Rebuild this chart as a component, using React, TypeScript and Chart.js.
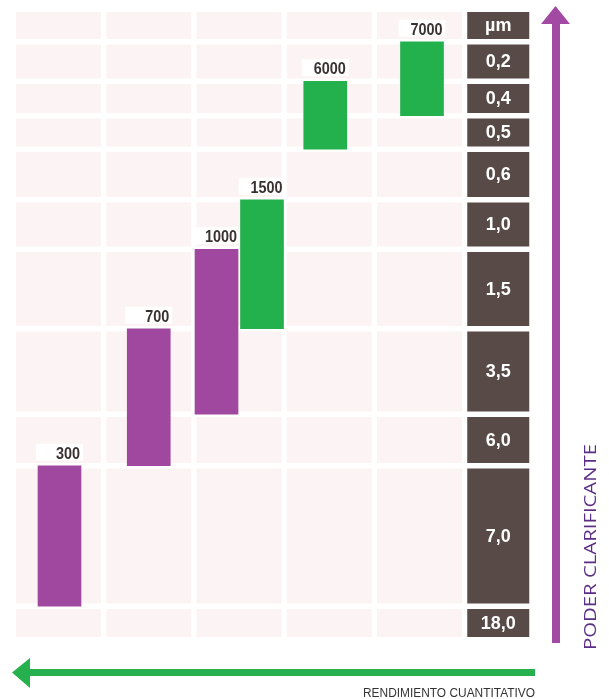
import { useEffect, useRef } from "react";
import { Chart, registerables } from "chart.js";

Chart.register(...registerables);

// ---------- data ----------
const sizeLabels = ["µm", "0,2", "0,4", "0,5", "0,6", "1,0", "1,5", "3,5", "6,0", "7,0", "18,0"];
const purpleValues = [300, 700, 1000];
const purpleColumns = [0, 1, 2];
const purpleFromRow = [9, 7, 6];
const purpleToRow = [9, 8, 7];
const greenValues = [1500, 6000, 7000];
const greenColumns = [2, 3, 4];
const greenFromRow = [5, 2, 1];
const greenToRow = [6, 3, 2];
const yTitle = "PODER CLARIFICANTE";
const xTitle = "RENDIMIENTO CUANTITATIVO";

// ---------- layout ----------
const COLUMN_COUNT = 5;
const ROW_H = [27, 34, 29, 28, 45, 44, 74, 80, 46, 135, 28];
const ROW_GAP = 5.5;
const COL_W = 85;
const COL_GAP = 5.25;
const LABEL_COL_W = 62;
const purpleOffsets = [1, 0, -22.5];
const greenOffsets = [23, -4, 2.5];

const ROW_TOP: number[] = [];
{
  let acc = 0;
  for (let i = 0; i < ROW_H.length; i++) {
    ROW_TOP.push(acc);
    acc += ROW_H[i] + ROW_GAP;
  }
}
const Y_MAX = ROW_TOP[ROW_TOP.length - 1] + ROW_H[ROW_H.length - 1];
const X_MAX = COLUMN_COUNT * (COL_W + COL_GAP) + LABEL_COL_W;

const boundaryAbove = (r: number) => (r === 0 ? 0 : ROW_TOP[r] - ROW_GAP / 2);
const boundaryBelow = (r: number) =>
  r === ROW_H.length - 1 ? Y_MAX : ROW_TOP[r] + ROW_H[r] + ROW_GAP / 2;
const colCenter = (c: number) => c * (COL_W + COL_GAP) + COL_W / 2;

const PINK = "#fcf3f4";
const DARK = "#584a46";
const PURPLE = "#a0489f";
const GREEN = "#22b14c";

function buildPoints(values: number[], cols: number[], from: number[], to: number[], offs: number[]) {
  return values.map((v, i) => ({
    x: colCenter(cols[i]) + offs[i],
    y: [boundaryAbove(from[i]), boundaryBelow(to[i])],
    v,
  }));
}

const gridPlugin = {
  id: "gridCells",
  beforeDatasetsDraw(chart: any) {
    const { ctx } = chart;
    const xs = chart.scales.x;
    const ys = chart.scales.y;
    ctx.save();
    for (let c = 0; c < COLUMN_COUNT; c++) {
      const l = xs.getPixelForValue(c * (COL_W + COL_GAP));
      const r = xs.getPixelForValue(c * (COL_W + COL_GAP) + COL_W);
      for (let j = 0; j < ROW_H.length; j++) {
        const t = ys.getPixelForValue(ROW_TOP[j]);
        const b = ys.getPixelForValue(ROW_TOP[j] + ROW_H[j]);
        ctx.fillStyle = PINK;
        ctx.fillRect(l, t, r - l, b - t);
      }
    }
    const ll = xs.getPixelForValue(COLUMN_COUNT * (COL_W + COL_GAP));
    const lr = xs.getPixelForValue(COLUMN_COUNT * (COL_W + COL_GAP) + LABEL_COL_W);
    for (let j = 0; j < ROW_H.length; j++) {
      const t = ys.getPixelForValue(ROW_TOP[j]);
      const b = ys.getPixelForValue(ROW_TOP[j] + ROW_H[j]);
      ctx.fillStyle = DARK;
      ctx.fillRect(ll, t, lr - ll, b - t);
      ctx.fillStyle = "#ffffff";
      ctx.font = "bold 18px 'Liberation Sans', Arial, sans-serif";
      ctx.textAlign = "center";
      ctx.textBaseline = "middle";
      ctx.fillText(sizeLabels[j], (ll + lr) / 2, (t + b) / 2 + 1);
    }
    ctx.restore();
  },
};

const valuePlugin = {
  id: "valueLabels",
  afterDatasetsDraw(chart: any) {
    const { ctx } = chart;
    ctx.save();
    chart.data.datasets.forEach((ds: any, di: number) => {
      const meta = chart.getDatasetMeta(di);
      meta.data.forEach((el: any, i: number) => {
        const top = Math.min(el.y, el.base);
        const left = el.x - el.width / 2;
        const right = el.x + el.width / 2;
        ctx.fillStyle = "rgba(255,255,255,0.95)";
        ctx.fillRect(left - 2, top - 22, el.width + 4, 17);
        ctx.save();
        ctx.translate(right - 1, top - 7);
        ctx.scale(0.9, 1);
        ctx.fillStyle = "#3a3232";
        ctx.font = "bold 16px 'Liberation Sans', Arial, sans-serif";
        ctx.textAlign = "right";
        ctx.textBaseline = "alphabetic";
        ctx.fillText(String(ds.data[i].v), 0, 0);
        ctx.restore();
      });
    });
    ctx.restore();
  },
};

const decorPlugin = {
  id: "decor",
  afterDraw(chart: any) {
    const { ctx } = chart;
    ctx.save();
    // purple vertical arrow
    ctx.fillStyle = "#a24aa3";
    ctx.fillRect(552, 22, 8, 621);
    ctx.beginPath();
    ctx.moveTo(541, 24);
    ctx.lineTo(570, 24);
    ctx.lineTo(555.5, 6);
    ctx.closePath();
    ctx.fill();
    // green horizontal arrow
    ctx.fillStyle = "#26b04e";
    ctx.fillRect(26, 669, 509, 7);
    ctx.beginPath();
    ctx.moveTo(12, 672.5);
    ctx.lineTo(30, 658);
    ctx.lineTo(30, 688);
    ctx.closePath();
    ctx.fill();
    // y title
    ctx.save();
    ctx.translate(596, 547);
    ctx.rotate(-Math.PI / 2);
    ctx.font = "16px 'Open Sans', 'DejaVu Sans', sans-serif";
    const w1 = ctx.measureText(yTitle).width;
    ctx.scale(206 / w1, 1);
    ctx.fillStyle = "#5c2d87";
    ctx.textAlign = "center";
    ctx.textBaseline = "alphabetic";
    ctx.fillText(yTitle, 0, 0);
    ctx.restore();
    // x title
    ctx.save();
    ctx.font = "12.5px 'Liberation Sans', Arial, sans-serif";
    const w2 = ctx.measureText(xTitle).width;
    ctx.translate(535, 697);
    ctx.scale(172 / w2, 1);
    ctx.fillStyle = "#333333";
    ctx.textAlign = "right";
    ctx.textBaseline = "alphabetic";
    ctx.fillText(xTitle, 0, 0);
    ctx.restore();
    ctx.restore();
  },
};

export default function App() {
  const ref = useRef<HTMLCanvasElement | null>(null);
  useEffect(() => {
    if (!ref.current) return;
    const chart = new Chart(ref.current, {
      type: "bar",
      data: {
        datasets: [
          {
            label: "purple",
            data: buildPoints(purpleValues, purpleColumns, purpleFromRow, purpleToRow, purpleOffsets) as any,
            backgroundColor: PURPLE,
            borderWidth: 0,
            grouped: false,
            barPercentage: 1,
            categoryPercentage: 1,
            maxBarThickness: 43,
          },
          {
            label: "green",
            data: buildPoints(greenValues, greenColumns, greenFromRow, greenToRow, greenOffsets) as any,
            backgroundColor: GREEN,
            borderWidth: 0,
            grouped: false,
            barPercentage: 1,
            categoryPercentage: 1,
            maxBarThickness: 43,
          },
        ],
      },
      options: {
        animation: false,
        responsive: false,
        devicePixelRatio: 1,
        layout: { padding: { left: 16, right: 609 - 16 - X_MAX, top: 12, bottom: 699 - 12 - Y_MAX } },
        plugins: { legend: { display: false }, tooltip: { enabled: false } },
        scales: {
          x: {
            type: "linear",
            min: 0,
            max: X_MAX,
            offset: false,
            display: false,
            grid: { offset: false },
            ticks: { stepSize: 10000 },
          },
          y: { type: "linear", min: 0, max: Y_MAX, reverse: true, display: false, ticks: { stepSize: 10000 } },
        },
      } as any,
      plugins: [gridPlugin, valuePlugin, decorPlugin],
    });
    return () => chart.destroy();
  }, []);
  return (
    <div style={{ position: "fixed", left: 0, top: 0, width: 609, height: 699, background: "#fff" }}>
      <canvas ref={ref} width={609} height={699} style={{ display: "block" }} />
    </div>
  );
}
